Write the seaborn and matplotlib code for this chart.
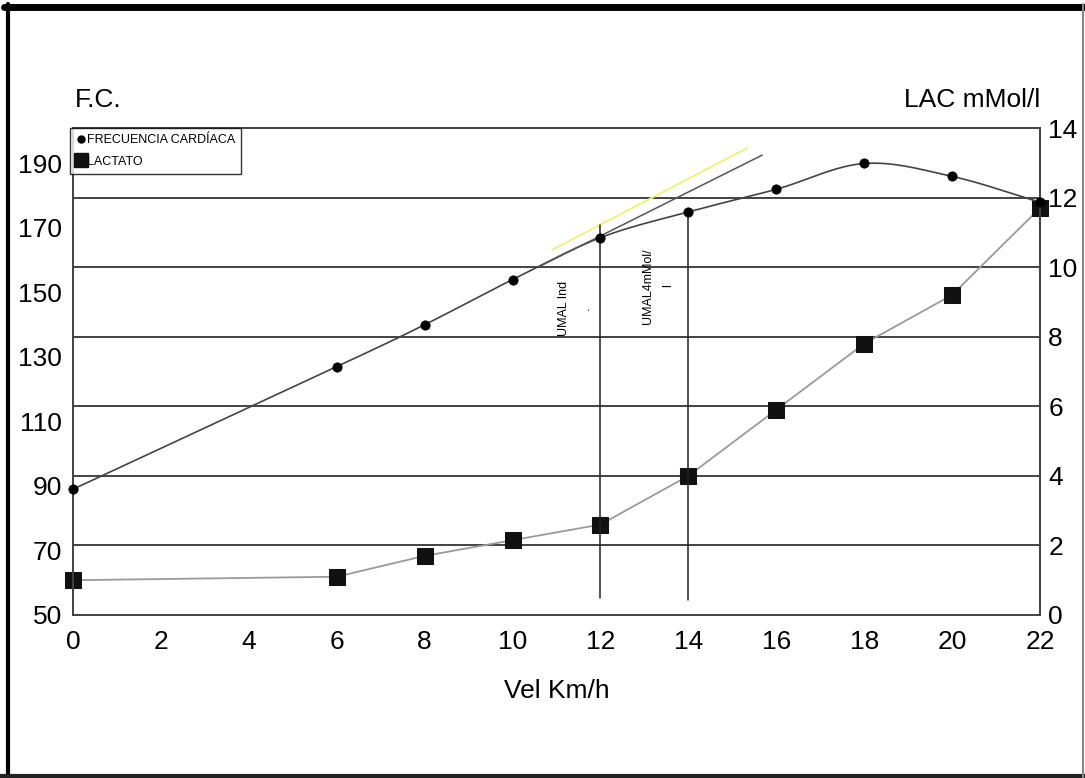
import numpy as np
import pandas as pd
import matplotlib
matplotlib.use("Agg")
import matplotlib.pyplot as plt
from matplotlib.lines import Line2D
import seaborn as sns

# ---- data ----
vel = [0, 6, 8, 10, 12, 14, 16, 18, 20, 22]
fc = [89, 127, 140, 154, 167, 175, 182, 190, 186, 178]
lac = [1.0, 1.1, 1.7, 2.15, 2.6, 4.0, 5.9, 7.8, 9.2, 11.7]
x_ticks = [0, 2, 4, 6, 8, 10, 12, 14, 16, 18, 20, 22]
fc_ticks = [50, 70, 90, 110, 130, 150, 170, 190]
lac_ticks = [0, 2, 4, 6, 8, 10, 12, 14]
umbral_vel = [12, 14]
umbral_labels = ["UMAL Ind\n.", "UMAL4mMol/\nl"]
tangent_dark_x = [10.63, 15.68]
tangent_dark_y = [158.2, 192.6]
tangent_yellow_x = [10.9, 15.34]
tangent_yellow_y = [163.2, 194.8]

sns.set_theme(style="white")
FONT = ["Liberation Sans Narrow", "Liberation Sans", "DejaVu Sans"]
plt.rcParams["font.family"] = FONT
plt.rcParams["text.color"] = "black"
plt.rcParams["xtick.color"] = "black"
plt.rcParams["ytick.color"] = "black"
plt.rcParams["axes.labelcolor"] = "black"
FS = 19


def catmull_rom(xs, ys, n=30):
    xs = np.asarray(xs, float)
    ys = np.asarray(ys, float)
    px = np.concatenate([[2 * xs[0] - xs[1]], xs, [2 * xs[-1] - xs[-2]]])
    py = np.concatenate([[2 * ys[0] - ys[1]], ys, [2 * ys[-1] - ys[-2]]])
    ox, oy = [], []
    for i in range(1, len(px) - 2):
        t = np.linspace(0, 1, n, endpoint=False)
        for arr, out in ((px, ox), (py, oy)):
            p0, p1, p2, p3 = arr[i - 1], arr[i], arr[i + 1], arr[i + 2]
            out.extend(0.5 * ((2 * p1) + (-p0 + p2) * t
                              + (2 * p0 - 5 * p1 + 4 * p2 - p3) * t ** 2
                              + (-p0 + 3 * p1 - 3 * p2 + p3) * t ** 3))
    ox.append(xs[-1]); oy.append(ys[-1])
    return np.array(ox), np.array(oy)


fig = plt.figure(figsize=(10.85, 7.78), dpi=100)
ax = fig.add_axes([73 / 1085, 1 - 615 / 778, (1040 - 73) / 1085, (615 - 128) / 778])
ax2 = ax.twinx()

# right axis (lactate) governs the gridlines
ax2.set_ylim(0, 14)
ax2.set_yticks(lac_ticks)
ax2.set_yticklabels([str(t) for t in lac_ticks], fontsize=FS, family=FONT)
for t in lac_ticks[1:-1]:
    ax2.axhline(t, color="#222222", lw=1.2, zorder=0)
ax2.tick_params(axis="y", length=0, pad=6, colors="black")

# left axis (FC)
ax.set_ylim(50, 201)
ax.set_xlim(0, 22)
ax.set_yticks(fc_ticks)
ax.set_yticklabels([str(t) for t in fc_ticks], fontsize=FS, family=FONT)
ax.set_xticks(x_ticks)
ax.set_xticklabels([str(t) for t in x_ticks], fontsize=FS, family=FONT)
ax.tick_params(axis="x", length=0, pad=11, colors="black")
ax.tick_params(axis="y", length=0, pad=8, colors="black")

# FC smooth curve + markers
sx, sy = catmull_rom(vel, fc)
fc_smooth = pd.DataFrame({"vel": sx, "fc": sy})
fc_df = pd.DataFrame({"vel": vel, "fc": fc})
sns.lineplot(data=fc_smooth, x="vel", y="fc", ax=ax, color="#444444", lw=1.2,
             sort=False, zorder=3)
sns.scatterplot(data=fc_df, x="vel", y="fc", ax=ax, color="black", s=45,
                edgecolor="black", zorder=4, clip_on=False)

# tangent lines
ax.plot(tangent_dark_x, tangent_dark_y, color="#555555", lw=1.1, zorder=3)
ax.plot(tangent_yellow_x, tangent_yellow_y, color="#eef08a", lw=1.4, zorder=3)

# threshold verticals
ax.plot([umbral_vel[0], umbral_vel[0]], [55.3, 171], color="#222222", lw=1.1, zorder=3)
ax.plot([umbral_vel[1], umbral_vel[1]], [54.6, 176], color="#222222", lw=1.1, zorder=3)
ax.text(11.42, 145, umbral_labels[0], rotation=90, fontsize=9, ha="center",
        va="center", family=FONT, linespacing=2.15)
ax.text(13.3, 152, umbral_labels[1], rotation=90, fontsize=9, ha="center",
        va="center", family=FONT, linespacing=1.9)

# lactate
lac_df = pd.DataFrame({"vel": vel, "lac": lac})
sns.lineplot(data=lac_df, x="vel", y="lac", ax=ax2, color="#9a9a9a", lw=1.3,
             marker="s", markersize=11, markerfacecolor="#111111",
             markeredgecolor="#111111", zorder=5, clip_on=False)

ax.set_xlabel("Vel Km/h", fontsize=FS, family=FONT, labelpad=18)
ax.set_ylabel("")
ax2.set_ylabel("")
ax.set_zorder(ax2.get_zorder() + 1)
ax.patch.set_visible(False)

for a in (ax, ax2):
    for s in a.spines.values():
        s.set_color("#444444")
        s.set_linewidth(1.3)

fig.text(75 / 1085, 1 - 100 / 778, "F.C.", fontsize=FS, family=FONT, va="center", ha="left")
fig.text(1040 / 1085, 1 - 100 / 778, "LAC mMol/l", fontsize=FS, family=FONT, va="center", ha="right")

handles = [
    Line2D([], [], marker="o", color="none", markerfacecolor="black",
           markeredgecolor="black", markersize=5, label="FRECUENCIA CARDÍACA"),
    Line2D([], [], marker="s", color="none", markerfacecolor="#111111",
           markeredgecolor="#111111", markersize=10, label="LACTATO"),
]
leg = ax.legend(handles=handles, loc="upper left", bbox_to_anchor=(-0.003, 1.0),
                borderaxespad=0, frameon=True, fancybox=False,
                handlelength=0.7, handletextpad=0.15, borderpad=0.5,
                labelspacing=0.75, prop={"family": FONT, "size": 9})
leg.get_frame().set_edgecolor("black")
leg.get_frame().set_linewidth(1.0)
leg.set_zorder(10)

# figure border
fig.add_artist(Line2D([0.004, 1.0], [0.991, 0.991], transform=fig.transFigure, color="black", lw=5))
fig.add_artist(Line2D([0.0075, 0.0075], [0.0, 0.995], transform=fig.transFigure, color="black", lw=3))
fig.add_artist(Line2D([0.0, 1.0], [0.003, 0.003], transform=fig.transFigure, color="#222222", lw=3))
fig.add_artist(Line2D([0.9985, 0.9985], [0.0, 0.995], transform=fig.transFigure, color="#888888", lw=1.5))

fig.savefig("out.png", dpi=100)
